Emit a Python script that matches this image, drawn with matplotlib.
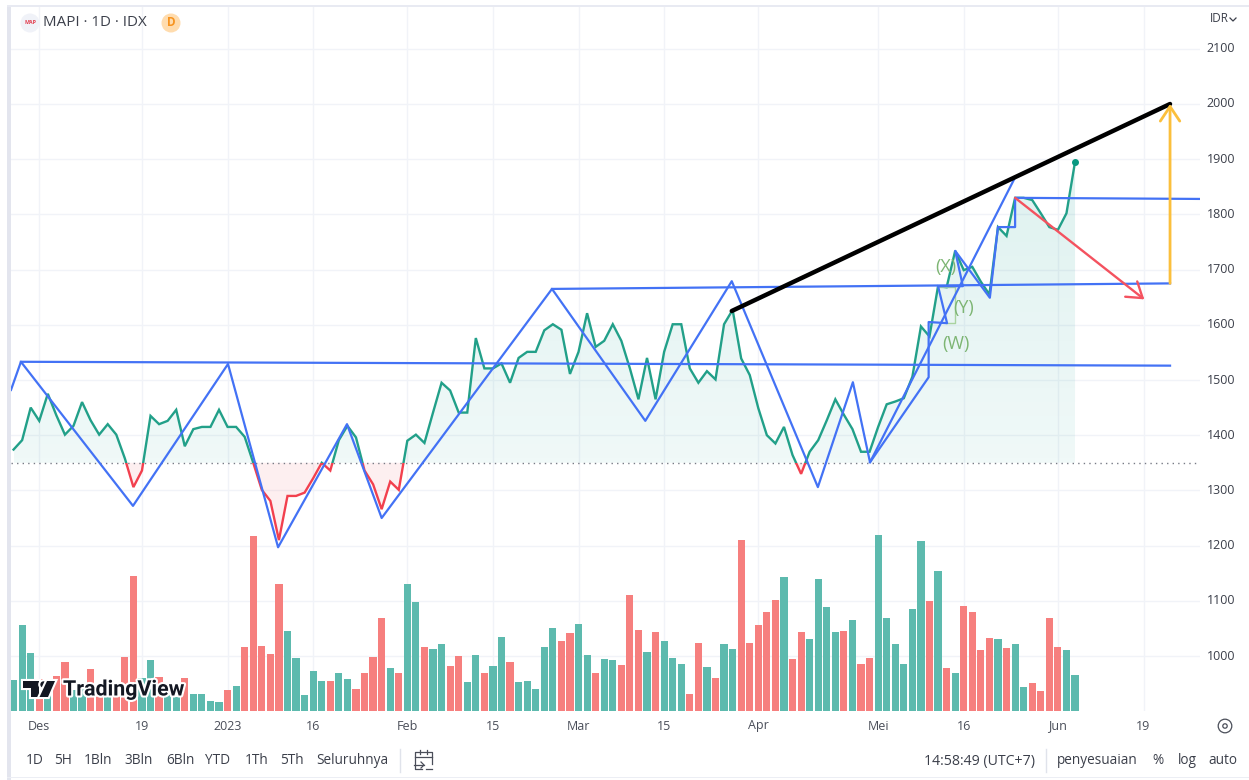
import numpy as np
import matplotlib
matplotlib.use('Agg')
import matplotlib.pyplot as plt
import matplotlib.patheffects as pe
from matplotlib.lines import Line2D
from matplotlib.patches import Circle, Polygon, Rectangle
from matplotlib.path import Path
from matplotlib.colors import to_rgb

plt.rcParams['font.family'] = ['Open Sans', 'DejaVu Sans']

W, H = 1249, 780

# close price per trading day
closes = [1374, 1391, 1450, 1426, 1475, 1436, 1401, 1417, 1460, 1427, 1401, 1420, 1401, 1358, 1306, 1336,
          1435, 1420, 1426, 1446, 1380, 1411, 1415, 1415, 1446, 1415, 1415, 1397, 1350, 1301, 1281, 1210,
          1290, 1290, 1296, 1322, 1350, 1336, 1391, 1417, 1396, 1336, 1311, 1266, 1316, 1301, 1390, 1401,
          1386, 1441, 1495, 1481, 1441, 1441, 1576, 1521, 1521, 1530, 1495, 1540, 1551, 1551, 1590, 1601,
          1591, 1511, 1551, 1621, 1560, 1571, 1601, 1571, 1521, 1465, 1540, 1465, 1551, 1601, 1601, 1521,
          1495, 1516, 1501, 1601, 1627, 1539, 1509, 1449, 1400, 1385, 1415, 1364, 1330, 1370, 1391, 1427,
          1465, 1437, 1411, 1370, 1370, 1415, 1456, 1461, 1467, 1506, 1597, 1579, 1670, 1668, 1734, 1699,
          1705, 1678, 1655, 1777, 1761, 1830, 1830, 1826, 1802, 1777, 1772, 1802, 1895]

# volume bars, read against the price scale (top of each bar)
volumes = [956, 1056, 1006, 958, 943, 964, 989, 938, 944, 976, 944, 944, 944, 999, 1145, 961,
           993, 962, 944, 925, 961, 931, 932, 919, 917, 938, 945, 1017, 1218, 1019, 1004, 1130,
           1045, 996, 929, 973, 954, 954, 970, 959, 940, 969, 999, 1069, 978, 970, 1130, 1098,
           1017, 1013, 1021, 982, 1000, 953, 1001, 970, 982, 1034, 989, 953, 955, 940, 1016, 1051,
           1027, 1041, 1058, 1001, 970, 995, 992, 983, 1111, 1047, 1008, 1043, 1027, 996, 985, 932,
           1024, 980, 961, 1021, 1013, 1211, 1023, 1056, 1079, 1102, 1143, 994, 1043, 1030, 1139, 1088,
           1043, 1045, 1065, 985, 996, 1220, 1069, 1021, 985, 1085, 1208, 1100, 1154, 978, 969, 1091,
           1079, 1011, 1032, 1030, 1015, 1021, 944, 952, 936, 1068, 1017, 1010, 966]

# bars of down days, the rest are up days
red_bars = [3, 5, 6, 9, 10, 12, 13, 14, 17, 20, 25, 27, 28, 29, 30, 31, 37, 40, 41, 42, 43, 45,
            48, 51, 52, 55, 58, 64, 65, 68, 71, 72, 73, 75, 79, 80, 82, 85, 86, 87, 88, 89, 91, 92,
            97, 99, 100, 107, 109, 111, 112, 113, 114, 116, 119, 120, 121, 122]

base_price = 1350
price_ticks = [1000, 1100, 1200, 1300, 1400, 1500, 1600, 1700, 1800, 1900, 2000, 2100]
date_ticks = [3, 15, 25, 35, 46, 56, 66, 76, 87, 101, 111, 122, 132]
date_labels = ['Des', '19', '2023', '16', 'Feb', '15', 'Mar', '15', 'Apr', 'Mei', '16', 'Jun', '19']

# drawings, as (bar index, price)
zigzag_x = [-0.3, 0.86, 13.95, 25.05, 30.9, 38.95, 43.0, 62.9, 73.8, 83.9, 93.96, 98.05, 100.05, 116.9]
zigzag_y = [1482, 1533, 1272, 1529, 1197, 1420, 1250, 1665, 1426, 1679, 1306, 1496, 1351, 1864]
steps_x = [100.05, 106.9, 106.9, 109.05, 108.0, 110.9, 110.0, 114.05, 115.0, 117.0, 117.0, 138.6]
steps_y = [1351, 1505, 1605, 1603, 1670, 1670, 1734, 1649, 1777, 1777, 1830, 1828]
level1_x, level1_y = [0.86, 135.1], [1533, 1526]
level2_x, level2_y = [62.9, 135.1], [1665, 1675]
black_x, black_y = [83.9, 135.1], [1625, 2000]
yellow_x, yellow_y = [135.1, 135.1], [1675, 2000]
red_x, red_y = [117.0, 132.1], [1830, 1646]
bracket_x = [108.0, 110.0, 110.0, 108.9]
bracket_y = [1668, 1668, 1603, 1603]
wave_labels = [('(X)', 108.9, 1705), ('(Y)', 111.0, 1630), ('(W)', 110.1, 1565)]

x = np.arange(len(closes))
closes = np.array(closes, dtype=float)
volumes = np.array(volumes, dtype=float)

fig = plt.figure(figsize=(W / 100, H / 100), dpi=100, facecolor='white')
ax = fig.add_axes([11 / W, 1 - 711 / H, (1200 - 11) / W, (711 - 7) / H])
xlim = (-0.3, 138.6)
ylim = (900.4, 2175.7)
ax.set_xlim(xlim)
ax.set_ylim(ylim)
for s in ax.spines.values():
    s.set_visible(False)
ax.tick_params(length=0, labelbottom=False, labelleft=False)
ax.set_xticks(date_ticks)
ax.set_yticks(price_ticks)
ax.grid(True, color='#f1f3f8', lw=1)
ax.set_axisbelow(True)

# volume
colors = ['#f67f7e' if i in red_bars else '#5dbaae' for i in x]
ax.bar(x, volumes - ylim[0], bottom=ylim[0], width=0.84, color=colors, zorder=2)

# area above and below the baseline
above = ax.fill_between(x, closes, base_price, where=closes >= base_price, interpolate=True, color='none', lw=0)
ax.fill_between(x, closes, base_price, where=closes <= base_price, interpolate=True,
                color='#f23645', alpha=0.08, lw=0, zorder=2)
r, g, b = to_rgb('#26a69a')
grad = np.zeros((64, 2, 4))
grad[..., 0], grad[..., 1], grad[..., 2] = r, g, b
grad[..., 3] = np.linspace(0.15, 0.07, 64)[:, None]
im = ax.imshow(grad, extent=(0, 124, base_price, 1895), aspect='auto', zorder=2, origin='upper')
im.set_clip_path(Path.make_compound_path(*above.get_paths()), transform=ax.transData)
ax.set_xlim(xlim)
ax.set_ylim(ylim)

ax.axhline(base_price, color='#787b86', lw=1, ls=(0, (1, 3)), zorder=3)

# price line, green above the baseline and red under it
green_line, = ax.plot(x, closes, color='#22a089', lw=1.7, zorder=4, solid_joinstyle='miter')
red_line, = ax.plot(x, closes, color='#f2404e', lw=1.7, zorder=4, solid_joinstyle='miter')
green_line.set_clip_path(Rectangle((xlim[0], base_price), xlim[1] - xlim[0], ylim[1] - base_price, transform=ax.transData))
red_line.set_clip_path(Rectangle((xlim[0], ylim[0]), xlim[1] - xlim[0], base_price - ylim[0], transform=ax.transData))
ax.plot(x[-1], closes[-1], 'o', color='#089981', ms=4, zorder=6)

# drawings
blue = '#4372f5'
ax.plot(zigzag_x, zigzag_y, color=blue, lw=1.6, zorder=5)
ax.plot(steps_x, steps_y, color=blue, lw=1.6, zorder=5)
ax.plot(level1_x, level1_y, color=blue, lw=1.6, zorder=5)
ax.plot(level2_x, level2_y, color=blue, lw=1.6, zorder=5)
ax.plot(bracket_x, bracket_y, color='#a9d3a0', lw=1, zorder=4)
ax.plot(black_x, black_y, color='black', lw=3.2, zorder=6, solid_capstyle='round')
ax.annotate('', xy=(yellow_x[1], yellow_y[1]), xytext=(yellow_x[0], yellow_y[0]),
            arrowprops=dict(arrowstyle='->,head_length=0.75,head_width=0.5', color='#fbbf3c', lw=2,
                            mutation_scale=14, shrinkA=0, shrinkB=0), zorder=6)
ax.annotate('', xy=(red_x[1], red_y[1]), xytext=(red_x[0], red_y[0]),
            arrowprops=dict(arrowstyle='->,head_length=0.75,head_width=0.5', color='#f4525f', lw=1.7,
                            mutation_scale=14, shrinkA=0, shrinkB=0), zorder=6)
for label, lx, ly in wave_labels:
    ax.text(lx, ly, label, color='#7db573', fontsize=13, ha='center', va='center', zorder=6)

# overlay in screen pixels for the chart chrome
hdr = fig.add_axes([0, 0, 1, 1], facecolor='none')
hdr.set_xlim(0, W)
hdr.set_ylim(H, 0)
hdr.axis('off')


def px_text(px, py, s, **kw):
    kw.setdefault('ha', 'center')
    kw.setdefault('va', 'center')
    kw.setdefault('fontsize', 9)
    kw.setdefault('color', '#3b3f4a')
    return hdr.text(px, py, s, **kw)


# axis labels
for p in price_ticks:
    py = 1 - (p - ylim[0]) / (ylim[1] - ylim[0])
    px_text(1221, 7 + py * 704, str(p), fontsize=9)
for t, lab in zip(date_ticks, date_labels):
    tx = 11 + (t - xlim[0]) / (xlim[1] - xlim[0]) * 1189
    px_text(tx, 726, lab, fontsize=9, color='#4a4e59')
px_text(1219, 19, 'IDR', fontsize=8.5)
hdr.plot([1230, 1233, 1236], [18, 21, 18], color='#3b3f4a', lw=0.9)

# outer frame
hdr.add_patch(Rectangle((7, 5), 4, 775, color='#e3e5ee', lw=0))
hdr.add_patch(Rectangle((7, 5), 1242, 2, color='#e8eaf2', lw=0))
hdr.add_patch(Rectangle((7, 777), 1242, 1, color='#eceef4', lw=0))

# header
hdr.add_patch(Circle((30, 23), 9.5, color='#f0f2f8', lw=0))
px_text(30, 23, 'MAP', color='#e23b4c', fontsize=3.8, fontweight='bold')
px_text(43, 23, 'MAPI · 1D · IDX', fontsize=10.9, ha='left')
hdr.add_patch(Circle((171, 23), 9.5, color='#ffdcae', lw=0))
px_text(171, 23, 'D', color='#f7931e', fontsize=8.5, fontweight='bold')

# watermark
halo = [pe.withStroke(linewidth=3, foreground='white')]
logo_bits = [
    Polygon([(23, 681), (39, 681), (39, 697), (31, 697), (31, 688), (23, 688)], closed=True, color='#131722', lw=0),
    Circle((43.5, 684.5), 3.2, color='#131722', lw=0),
    Polygon([(47, 681), (55, 681), (48, 697), (39.5, 697)], closed=True, color='#131722', lw=0),
]
for bit in logo_bits:
    bit.set_path_effects(halo)
    bit.set_zorder(8)
    hdr.add_patch(bit)
px_text(63, 690, 'TradingView', color='#131722', fontsize=15.4, fontweight='semibold', family='Roboto',
        ha='left', path_effects=halo, zorder=8)

# bottom toolbar
for px, lab in [(35, '1D'), (63, '5H'), (98, '1Bln'), (139, '3Bln'), (180, '6Bln'), (218, 'YTD'),
                (257, '1Th'), (292, '5Th'), (352, 'Seluruhnya'), (1097, 'penyesuaian'),
                (1158, '%'), (1187, 'log'), (1223, 'auto')]:
    px_text(px, 761, lab, fontsize=9.8)
px_text(980, 761, '14:58:49 (UTC+7)', fontsize=10.2)
hdr.plot([400, 400], [749, 772], color='#e0e3eb', lw=1)
hdr.plot([1046, 1046], [749, 772], color='#e0e3eb', lw=1)

# calendar icon
icon = '#4a4e59'
hdr.plot([422, 415, 415, 432, 432], [769, 769, 752, 752, 764], color=icon, lw=0.9)
hdr.plot([415, 432], [757, 757], color=icon, lw=0.9)
hdr.plot([420, 420], [750, 754], color=icon, lw=0.9)
hdr.plot([427, 427], [750, 754], color=icon, lw=0.9)
hdr.plot([414, 424], [765, 765], color=icon, lw=0.9)
hdr.plot([421, 424, 421], [762, 765, 768], color=icon, lw=0.9)
hdr.plot([426, 432], [769, 769], color=icon, lw=0.9)

# settings gear
hdr.add_patch(Circle((1225, 726), 6.8, fill=False, ec=icon, lw=0.9))
hdr.add_patch(Circle((1225, 726), 2.2, fill=False, ec=icon, lw=0.9))

fig.savefig('out.png', dpi=100, facecolor='white')
